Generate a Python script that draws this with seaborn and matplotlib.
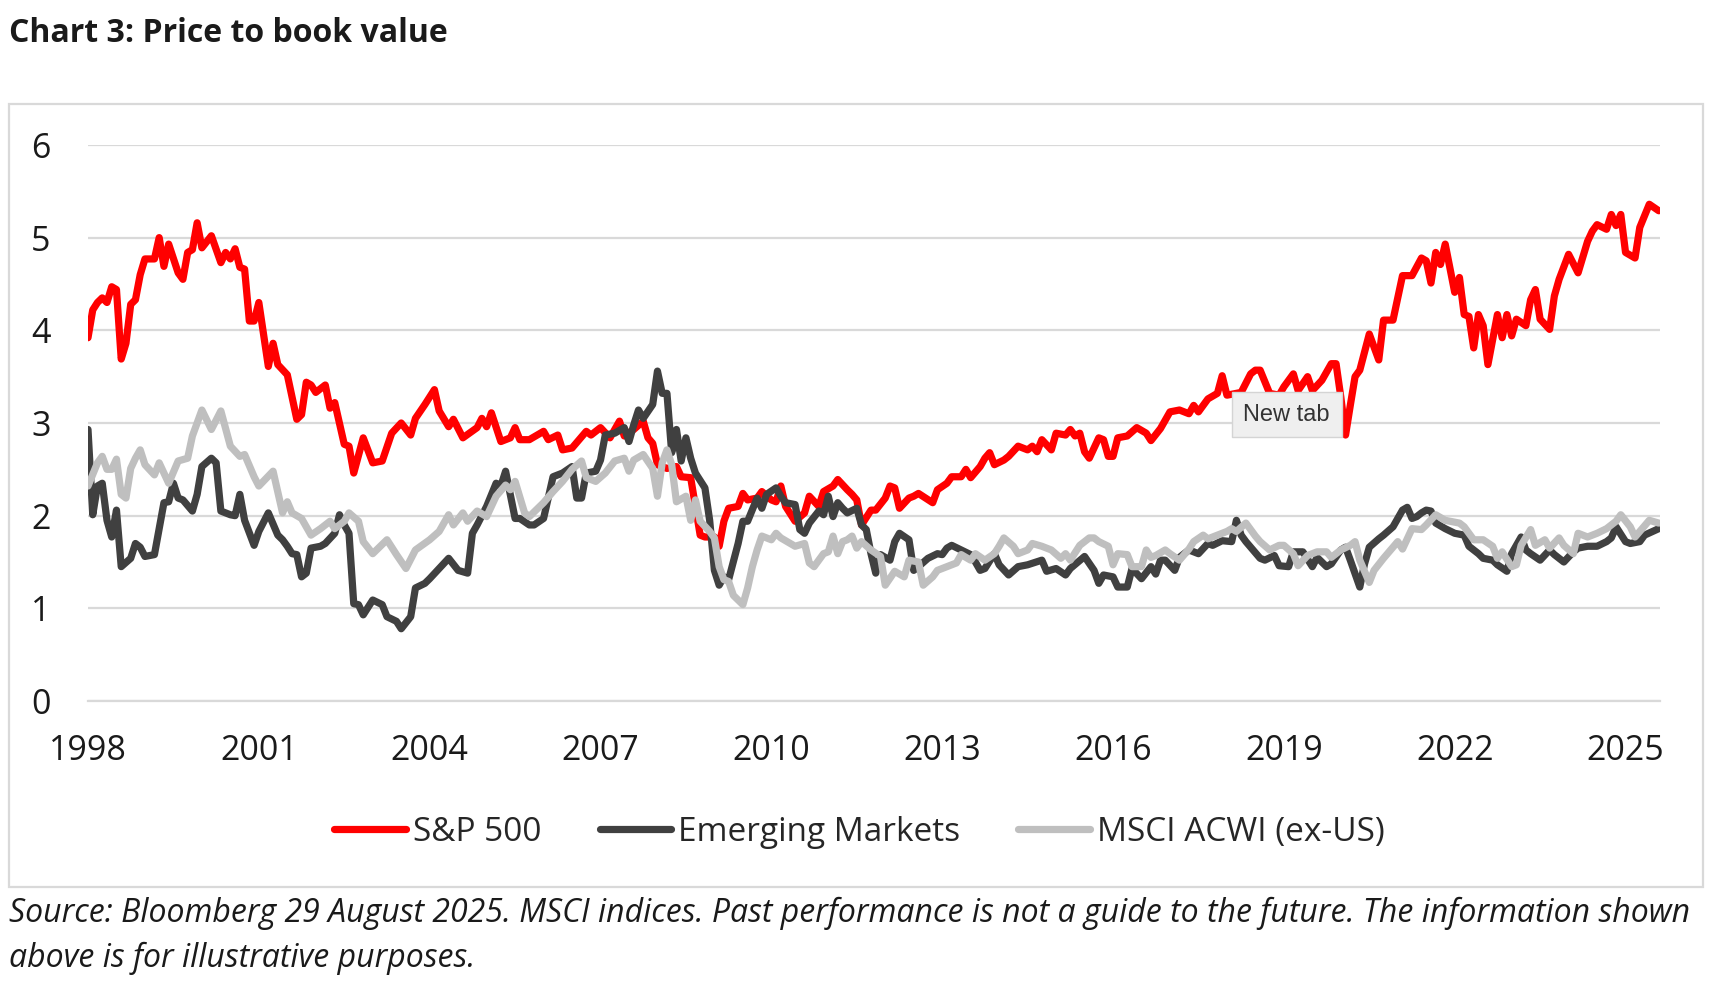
import pandas as pd
import seaborn as sns
import matplotlib.pyplot as plt
from matplotlib.patches import Rectangle

# months since Jan 1998 and price/book readings
sp_month = [0, 1, 2, 3, 4, 5, 6, 7, 8, 9, 10, 11, 12, 14, 15, 16, 17, 19, 20, 21, 22, 23, 24, 26, 28, 29, 30, 31, 32, 33,
            34, 35, 36, 38, 39, 40, 42, 44, 45, 46, 47, 48, 50, 51, 52, 54, 55, 56, 58, 60, 62, 64, 66, 68, 69, 71, 73, 74,
            76, 77, 79, 82, 83, 84, 85, 87, 89, 90, 91, 93, 96, 97, 99, 100, 102, 105, 106, 108, 110, 112, 113, 115, 117,
            118, 119, 120, 122, 124, 125, 127, 128, 129, 130, 132, 133, 134, 135, 137, 138, 139, 141, 142, 144, 145, 146,
            147, 149, 151, 152, 154, 155, 157, 158, 160, 161, 162, 163, 165, 166, 168, 169, 170, 171, 173, 174, 175, 178,
            179, 181, 182, 184, 185, 186, 188, 189, 190, 191, 193, 194, 196, 198, 199, 200, 201, 203, 204, 206, 207, 208,
            209, 210, 211, 213, 214, 215, 216, 217, 219, 221, 223, 224, 226, 228, 230, 232, 233, 234, 236, 238, 239, 240,
            242, 243, 245, 246, 247, 249, 251, 252, 254, 255, 257, 258, 260, 262, 263, 264, 265, 266, 267, 268, 270, 272,
            273, 275, 277, 279, 281, 282, 283, 284, 285, 286, 288, 289, 290, 291, 292, 293, 294, 295, 297, 298, 299, 300,
            301, 303, 304, 305, 306, 308, 309, 310, 312, 314, 316, 317, 318, 320, 321, 322, 323, 324, 326, 327, 329, 331]
sp_pb = [3.92, 4.22, 4.30, 4.35, 4.30, 4.47, 4.44, 3.69, 3.86, 4.28, 4.33, 4.60, 4.77, 4.77, 5.00, 4.69, 4.93, 4.62, 4.55,
         4.84, 4.87, 5.16, 4.89, 5.02, 4.73, 4.84, 4.77, 4.88, 4.68, 4.66, 4.10, 4.10, 4.30, 3.61, 3.86, 3.63, 3.52, 3.04,
         3.09, 3.44, 3.41, 3.33, 3.41, 3.16, 3.22, 2.77, 2.75, 2.46, 2.84, 2.57, 2.59, 2.89, 3.00, 2.87, 3.05, 3.20, 3.36,
         3.13, 2.96, 3.04, 2.84, 2.95, 3.05, 2.96, 3.11, 2.80, 2.84, 2.95, 2.82, 2.82, 2.91, 2.82, 2.87, 2.71, 2.73, 2.91,
         2.87, 2.95, 2.84, 3.02, 2.86, 2.93, 3.02, 2.84, 2.78, 2.55, 2.51, 2.53, 2.42, 2.41, 2.10, 1.79, 1.77, 1.77, 1.67,
         1.94, 2.08, 2.10, 2.24, 2.17, 2.19, 2.26, 2.17, 2.15, 2.32, 2.10, 1.94, 2.03, 2.21, 2.10, 2.26, 2.32, 2.39, 2.28,
         2.23, 2.17, 1.90, 2.06, 2.06, 2.19, 2.32, 2.30, 2.08, 2.19, 2.21, 2.24, 2.14, 2.28, 2.35, 2.42, 2.42, 2.50, 2.41,
         2.53, 2.62, 2.68, 2.55, 2.60, 2.64, 2.75, 2.71, 2.75, 2.69, 2.82, 2.71, 2.89, 2.87, 2.93, 2.86, 2.89, 2.69, 2.62,
         2.84, 2.82, 2.64, 2.64, 2.84, 2.86, 2.95, 2.89, 2.81, 2.94, 3.12, 3.14, 3.10, 3.19, 3.12, 3.26, 3.32, 3.51, 3.30,
         3.32, 3.33, 3.53, 3.57, 3.57, 3.32, 3.30, 3.39, 3.53, 3.35, 3.50, 3.35, 3.46, 3.64, 3.64, 3.28, 2.87, 3.19, 3.50,
         3.57, 3.96, 3.68, 4.11, 4.11, 4.59, 4.59, 4.78, 4.75, 4.51, 4.84, 4.71, 4.93, 4.41, 4.57, 4.17, 4.15, 3.81, 4.17,
         4.05, 3.63, 4.17, 3.92, 4.17, 3.94, 4.12, 4.05, 4.33, 4.44, 4.12, 4.01, 4.37, 4.55, 4.82, 4.62, 4.96, 5.07, 5.14,
         5.09, 5.25, 5.13, 5.25, 4.84, 4.78, 5.11, 5.36, 5.29]

em_month = [0, 1, 2, 3, 4, 5, 6, 7, 9, 10, 11, 12, 14, 16, 17, 18, 19, 20, 22, 23, 24, 26, 27, 28, 30, 31, 32, 33, 35, 36,
            38, 40, 41, 42, 43, 44, 45, 46, 47, 49, 50, 52, 53, 54, 55, 56, 57, 58, 60, 62, 63, 65, 66, 68, 69, 71, 72, 74,
            76, 78, 80, 81, 82, 84, 86, 87, 88, 90, 91, 93, 94, 96, 98, 100, 102, 103, 104, 105, 107, 108, 109, 111, 113,
            114, 115, 116, 117, 119, 120, 121, 122, 123, 124, 125, 126, 127, 128, 130, 131, 132, 133, 134, 135, 137, 138,
            139, 141, 142, 143, 145, 146, 147, 149, 150, 151, 152, 154, 155, 156, 157, 158, 159, 160, 162, 163, 164, 165,
            166, 167, 169, 170, 171, 173, 174, 175, 177, 179, 180, 181, 182, 184, 186, 187, 188, 189, 191, 192, 194, 196,
            198, 201, 202, 204, 206, 207, 210, 212, 213, 214, 216, 217, 219, 220, 222, 224, 225, 226, 227, 229, 230, 232,
            234, 236, 237, 239, 241, 242, 243, 244, 247, 248, 250, 251, 253, 254, 256, 258, 259, 261, 262, 264, 265, 266,
            268, 269, 270, 272, 273, 275, 277, 278, 279, 280, 281, 282, 283, 284, 286, 288, 290, 291, 293, 294, 296, 297,
            299, 300, 302, 303, 304, 306, 308, 309, 311, 313, 314, 316, 318, 320, 321, 322, 324, 325, 327, 328, 331]
em_pb = [2.93, 2.01, 2.32, 2.35, 1.95, 1.77, 2.06, 1.45, 1.54, 1.70, 1.66, 1.56, 1.58, 2.14, 2.15, 2.35, 2.19, 2.17, 2.05,
         2.23, 2.53, 2.62, 2.57, 2.05, 2.01, 2.00, 2.23, 1.95, 1.68, 1.83, 2.03, 1.79, 1.74, 1.67, 1.59, 1.58, 1.34, 1.38,
         1.65, 1.67, 1.70, 1.81, 2.01, 1.90, 1.81, 1.05, 1.04, 0.93, 1.09, 1.04, 0.91, 0.86, 0.78, 0.91, 1.22, 1.27, 1.32,
         1.43, 1.54, 1.41, 1.38, 1.81, 1.90, 2.10, 2.35, 2.32, 2.48, 1.97, 1.97, 1.90, 1.90, 1.97, 2.42, 2.46, 2.53, 2.19,
         2.19, 2.46, 2.48, 2.60, 2.87, 2.89, 2.95, 2.80, 2.98, 3.14, 3.05, 3.20, 3.56, 3.32, 3.32, 2.68, 2.93, 2.59, 2.84,
         2.62, 2.46, 2.30, 1.95, 1.41, 1.25, 1.34, 1.31, 1.70, 1.94, 1.94, 2.19, 2.08, 2.23, 2.30, 2.21, 2.14, 2.12, 1.85,
         1.81, 1.92, 2.05, 2.01, 2.21, 1.99, 2.14, 2.08, 2.03, 2.08, 1.90, 1.85, 1.59, 1.38, 1.58, 1.52, 1.72, 1.81, 1.74,
         1.41, 1.45, 1.54, 1.59, 1.58, 1.65, 1.68, 1.63, 1.58, 1.50, 1.41, 1.43, 1.59, 1.47, 1.36, 1.45, 1.47, 1.52, 1.40,
         1.43, 1.36, 1.43, 1.56, 1.41, 1.27, 1.36, 1.34, 1.23, 1.23, 1.43, 1.32, 1.45, 1.37, 1.52, 1.52, 1.41, 1.55, 1.63,
         1.59, 1.70, 1.68, 1.73, 1.72, 1.95, 1.79, 1.72, 1.54, 1.52, 1.57, 1.46, 1.45, 1.61, 1.61, 1.45, 1.55, 1.45, 1.48,
         1.63, 1.66, 1.52, 1.23, 1.48, 1.66, 1.75, 1.79, 1.88, 2.06, 2.09, 1.97, 1.99, 2.03, 2.06, 2.05, 1.92, 1.86, 1.81,
         1.79, 1.67, 1.59, 1.54, 1.52, 1.47, 1.40, 1.59, 1.77, 1.63, 1.59, 1.52, 1.63, 1.58, 1.50, 1.61, 1.65, 1.67, 1.67,
         1.72, 1.76, 1.88, 1.72, 1.70, 1.72, 1.79, 1.86]

acwi_month = [0, 2, 3, 4, 5, 6, 7, 8, 9, 10, 11, 12, 14, 15, 17, 19, 21, 22, 24, 26, 28, 30, 32, 33, 35, 36, 39, 41, 42,
              43, 45, 47, 49, 51, 52, 54, 55, 57, 58, 60, 63, 65, 67, 69, 72, 74, 76, 77, 79, 80, 82, 84, 86, 88, 89, 90,
              92, 93, 96, 98, 100, 102, 104, 105, 107, 109, 111, 113, 114, 115, 117, 119, 120, 121, 122, 123, 124, 126,
              127, 128, 129, 131, 132, 133, 134, 135, 136, 138, 139, 140, 141, 142, 144, 145, 146, 148, 149, 151, 152, 153,
              155, 156, 157, 158, 159, 160, 161, 162, 163, 165, 167, 168, 170, 172, 173, 175, 176, 178, 179, 181, 183, 184,
              186, 187, 189, 191, 192, 193, 195, 196, 198, 199, 201, 203, 205, 206, 207, 209, 211, 212, 213, 215, 216, 217,
              219, 220, 222, 223, 224, 225, 227, 228, 230, 232, 233, 235, 236, 238, 240, 241, 242, 244, 246, 247, 249, 251,
              252, 254, 255, 257, 259, 261, 262, 264, 266, 267, 268, 270, 271, 273, 275, 276, 277, 279, 281, 282, 284, 286,
              287, 289, 290, 292, 294, 296, 297, 298, 300, 301, 302, 304, 305, 307, 308, 310, 311, 313, 314, 316, 318, 320,
              322, 323, 325, 326, 327, 329, 331]
acwi_pb = [2.32, 2.57, 2.64, 2.50, 2.50, 2.61, 2.23, 2.19, 2.51, 2.62, 2.71, 2.55, 2.44, 2.57, 2.35, 2.59, 2.62, 2.86,
           3.14, 2.93, 3.13, 2.75, 2.64, 2.66, 2.42, 2.32, 2.48, 2.03, 2.15, 2.03, 1.97, 1.79, 1.86, 1.94, 1.86, 1.94,
           2.03, 1.94, 1.72, 1.59, 1.74, 1.58, 1.43, 1.63, 1.74, 1.83, 2.01, 1.90, 2.03, 1.94, 2.05, 1.99, 2.21, 2.33,
           2.28, 2.37, 2.03, 1.99, 2.14, 2.26, 2.37, 2.50, 2.59, 2.41, 2.37, 2.46, 2.59, 2.62, 2.48, 2.60, 2.66, 2.51,
           2.21, 2.57, 2.71, 2.55, 2.15, 2.21, 1.95, 2.17, 1.94, 1.83, 1.76, 1.45, 1.31, 1.29, 1.14, 1.04, 1.22, 1.45,
           1.63, 1.78, 1.74, 1.81, 1.76, 1.70, 1.67, 1.70, 1.49, 1.45, 1.59, 1.61, 1.78, 1.59, 1.72, 1.74, 1.78, 1.65,
           1.72, 1.63, 1.56, 1.25, 1.40, 1.34, 1.52, 1.50, 1.25, 1.34, 1.41, 1.45, 1.49, 1.58, 1.52, 1.59, 1.52, 1.59,
           1.67, 1.76, 1.67, 1.59, 1.63, 1.70, 1.67, 1.63, 1.54, 1.59, 1.52, 1.68, 1.76, 1.76, 1.72, 1.67, 1.47, 1.59,
           1.58, 1.45, 1.45, 1.63, 1.55, 1.57, 1.63, 1.59, 1.52, 1.64, 1.72, 1.79, 1.75, 1.79, 1.83, 1.86, 1.83, 1.92,
           1.78, 1.72, 1.63, 1.68, 1.68, 1.59, 1.46, 1.57, 1.61, 1.61, 1.55, 1.63, 1.68, 1.72, 1.52, 1.28, 1.41, 1.54,
           1.66, 1.72, 1.64, 1.86, 1.85, 1.90, 2.01, 1.95, 1.94, 1.92, 1.88, 1.74, 1.74, 1.67, 1.54, 1.61, 1.45, 1.47,
           1.68, 1.85, 1.68, 1.74, 1.65, 1.76, 1.68, 1.59, 1.81, 1.77, 1.81, 1.86, 1.94, 2.01, 1.88, 1.77, 1.83, 1.95,
           1.92]

series_names = ['S&P 500', 'Emerging Markets', 'MSCI ACWI (ex-US)']
series_colors = ['#ff0000', '#404040', '#bfbfbf']
year_ticks = [1998, 2001, 2004, 2007, 2010, 2013, 2016, 2019, 2022, 2025]

frames = []
for name, months, vals in zip(series_names, [sp_month, em_month, acwi_month], [sp_pb, em_pb, acwi_pb]):
    frames.append(pd.DataFrame({'year': [1998 + m / 12 for m in months], 'pb': vals, 'series': name}))
df = pd.concat(frames, ignore_index=True)

sns.set_style('white')
plt.rcParams['font.family'] = ['Open Sans', 'DejaVu Sans']

fig = plt.figure(figsize=(17.12, 9.86), dpi=100)
ax = fig.add_axes([0.0514, 0.289, 0.9185, 0.564])

sns.lineplot(data=df, x='year', y='pb', hue='series', hue_order=series_names,
             palette=dict(zip(series_names, series_colors)), estimator=None,
             linewidth=5.2, ax=ax, legend=False)

ax.set_xlim(1998, 1998 + 331 / 12 + 0.03)
ax.set_ylim(0, 6)
ax.set_yticks(range(0, 7))
ax.set_xticks(year_ticks)
ax.set_xticklabels([str(y) for y in year_ticks])
ax.set_xlabel('')
ax.set_ylabel('')
ax.yaxis.grid(True, color='#d9d9d9', linewidth=1.6)
ax.xaxis.grid(False)
ax.set_axisbelow(True)
for side in ['top', 'right', 'left']:
    ax.spines[side].set_visible(False)
ax.spines['bottom'].set_color('#d9d9d9')
ax.spines['bottom'].set_linewidth(1.6)
ax.tick_params(axis='x', length=8, width=1.6, color='#d9d9d9', pad=16, labelsize=24.5, labelcolor='#1a1a1a')
ax.tick_params(axis='y', length=0, pad=27, labelsize=24.5, labelcolor='#1a1a1a')

# legend under the plot
handles = [plt.Line2D([], [], color=c, linewidth=5.2) for c in series_colors]
fig.legend(handles, series_names, loc='center', bbox_to_anchor=(0.502, 0.156), ncol=3, frameon=False,
           fontsize=24, handlelength=2.15, handletextpad=0.2, columnspacing=1.75)

# outer chart border
fig.patches.append(Rectangle((0.0053, 0.1004), 0.9894, 0.7941, transform=fig.transFigure,
                             fill=False, edgecolor='#d9d9d9', linewidth=1.6))

fig.text(0.0053, 0.966, 'Chart 3: Price to book value', fontsize=23, fontweight='bold',
         color='#1a1a1a', va='center', ha='left')
fig.text(0.0053, 0.074, 'Source: Bloomberg 29 August 2025. MSCI indices. Past performance is not a guide '
         'to the future. The information shown', fontsize=23, style='italic', color='#1a1a1a',
         va='center', ha='left')
fig.text(0.0053, 0.0284, 'above is for illustrative purposes.', fontsize=23, style='italic',
         color='#1a1a1a', va='center', ha='left')

# browser tooltip captured in the screenshot
fig.text(0.7515, 0.5795, 'New tab', fontsize=17, color='#333333', ha='center', va='center',
         family=['Liberation Sans', 'DejaVu Sans'],
         bbox=dict(boxstyle='square,pad=0.5', facecolor='#efefef', edgecolor='#d4d4d4', linewidth=1))

fig.savefig('out.png', dpi=100)
plt.close(fig)
